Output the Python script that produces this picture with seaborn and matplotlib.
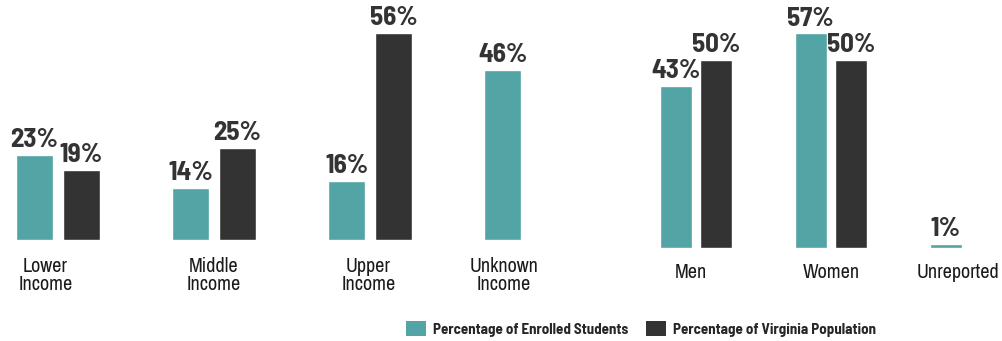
import matplotlib
matplotlib.use("Agg")
import matplotlib.pyplot as plt
from matplotlib.patches import Patch
import numpy as np
import pandas as pd
import seaborn as sns

# ---- data ----
income_cats = ["Lower\nIncome", "Middle\nIncome", "Upper\nIncome", "Unknown\nIncome"]
income_enrolled = [23, 14, 16, 46]
income_virginia = [19, 25, 56, np.nan]

gender_cats = ["Men", "Women", "Unreported"]
gender_enrolled = [43, 57, 1]
gender_virginia = [50, 50, np.nan]

series_names = ["Percentage of Enrolled Students", "Percentage of Virginia Population"]

TEAL = "#52a4a5"
DARK = "#333333"
palette = {series_names[0]: TEAL, series_names[1]: DARK}

sns.set_theme(style="white")
plt.rcParams["font.family"] = ["Archivo Narrow", "Barlow Semi Condensed", "DejaVu Sans"]
BOLD_FAMILY = ["Barlow Semi Condensed", "Asap Condensed", "DejaVu Sans"]

W, H = 1003, 341
fig = plt.figure(figsize=(W / 100, H / 100), dpi=100)


def make_df(cats, a, b):
    return pd.DataFrame({
        "cat": cats * 2,
        "series": [series_names[0]] * len(cats) + [series_names[1]] * len(cats),
        "value": list(a) + list(b),
    })


def axes_px(left, right, top, bottom):
    return fig.add_axes([left / W, 1 - bottom / H, (right - left) / W, (bottom - top) / H])


def draw(ax, df, cats, xlim, label_offsets, pad):
    sns.barplot(data=df, x="cat", y="value", hue="series", order=cats,
                hue_order=series_names, palette=palette, width=0.6, gap=0.2,
                dodge=True, legend=False, ax=ax, saturation=1)
    ax.set_xlim(*xlim)
    ax.set_ylim(0, 60)
    for c in ax.containers:
        ax.bar_label(c, fmt="{:.0f}%", padding=2, fontsize=19.5,
                     fontweight="bold", color="#333333", family=BOLD_FAMILY)
    ax.set_xticks(np.arange(len(cats)) + np.array(label_offsets))
    ax.set_xticklabels(cats, fontsize=14.5, color="#1a1a1a", linespacing=0.95)
    ax.tick_params(axis="x", length=0, pad=pad)
    ax.set_yticks([])
    ax.set_xlabel("")
    ax.set_ylabel("")
    sns.despine(ax=ax, left=True, bottom=True)
    ax.patch.set_alpha(0)


# left panel: income
ax1 = axes_px(5, 545, 18, 240)
draw(ax1, make_df(income_cats, income_enrolled, income_virginia), income_cats,
     (-53 / 156, 540 / 156 - 53 / 156), [-0.08, 0, -0.01, -0.14], 12)

# right panel: gender
ax2 = axes_px(620, 1000, 22, 248)
draw(ax2, make_df(gender_cats, gender_enrolled, gender_virginia), gender_cats,
     (-76 / 135, 304 / 135), [-0.04, 0, -0.06], 11)

handles = [Patch(facecolor=TEAL, edgecolor="none"), Patch(facecolor=DARK, edgecolor="none")]
fig.legend(handles, series_names, loc="center", bbox_to_anchor=(641 / W, 1 - 329 / H),
           ncol=2, frameon=False,
           prop={"size": 10.8, "weight": "bold", "family": BOLD_FAMILY},
           handlelength=1.35, handleheight=1.1, handletextpad=0.45, columnspacing=1.2)

fig.savefig("out.png", dpi=100, facecolor="white")
